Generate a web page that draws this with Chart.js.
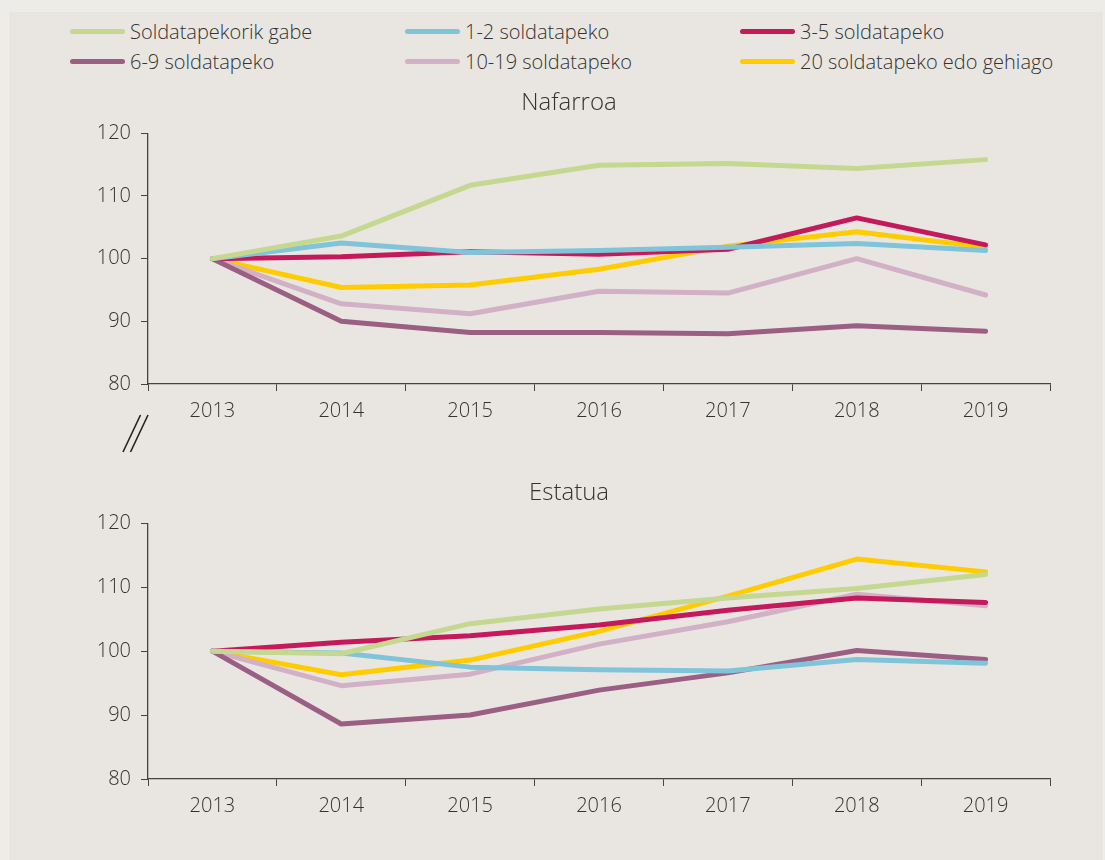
<!DOCTYPE html>
<html>
<head>
<meta charset="utf-8">
<script src="https://cdn.jsdelivr.net/npm/chart.js@4/dist/chart.umd.min.js"></script>
<style>
  html, body { margin:0; padding:0; }
  body { width:1105px; height:860px; background:#eeece8; position:relative; overflow:hidden; font-family:"Open Sans", sans-serif; }
  #panel { position:absolute; left:9px; top:12px; width:1094px; height:848px; background:#e9e6e1; }
  .box { position:absolute; left:0; width:1105px; }
  #legend { position:absolute; left:0; top:0; width:1105px; height:80px; }
  .li { position:absolute; display:flex; align-items:center; font-size:20px; font-weight:300; color:#333; white-space:nowrap; }
  .sw { width:55px; height:5px; border-radius:3px; margin-right:5px; }
</style>
</head>
<body>
<div id="panel"></div>
<div id="legend"></div>
<div class="box" style="top:85px;height:375px;"><canvas id="c1"></canvas></div>
<div class="box" style="top:475px;height:380px;"><canvas id="c2"></canvas></div>
<script>
const years = ["2013","2014","2015","2016","2017","2018","2019"];
const seriesNames = ["Soldatapekorik gabe","1-2 soldatapeko","3-5 soldatapeko","6-9 soldatapeko","10-19 soldatapeko","20 soldatapeko edo gehiago"];
const seriesColors = ["#c5d88f","#7fc4d8","#c41a5c","#9b5f84","#d2b1c6","#ffcc00"];
const yTicks = [80, 90, 100, 110, 120];

// Nafarroa
const nafGreen  = [100, 103.6, 111.7, 114.9, 115.2, 114.4, 115.8];
const nafBlue   = [100, 102.5, 101.0, 101.3, 101.8, 102.4, 101.3];
const nafRed    = [100, 100.3, 101.1, 100.7, 101.5, 106.5, 102.2];
const nafMauve  = [100, 90.0, 88.2, 88.2, 88.0, 89.3, 88.4];
const nafPink   = [100, 92.8, 91.2, 94.8, 94.5, 100.0, 94.2];
const nafYellow = [100, 95.4, 95.8, 98.3, 102.0, 104.3, 101.8];

// Estatua
const estGreen  = [100, 99.6, 104.3, 106.6, 108.3, 109.8, 112.0];
const estBlue   = [100, 99.7, 97.5, 97.1, 96.9, 98.7, 98.1];
const estRed    = [100, 101.4, 102.4, 104.1, 106.4, 108.3, 107.6];
const estMauve  = [100, 88.6, 90.0, 93.9, 96.6, 100.1, 98.7];
const estPink   = [100, 94.6, 96.4, 101.1, 104.6, 108.9, 107.1];
const estYellow = [100, 96.3, 98.6, 103.1, 108.6, 114.4, 112.4];

const FONT = "'Open Sans', sans-serif";
const TXT = "#333";
const AX = "#444";

function datasets(arrs){
  return arrs.map((d,i)=>({
    label: seriesNames[i], data: d, borderColor: seriesColors[i], backgroundColor: seriesColors[i],
    borderWidth: 5, pointRadius: 0, tension: 0, borderCapStyle: 'round', borderJoinStyle: 'round'
  }));
}

const breakMark = {
  id: 'breakMark',
  afterDraw(chart, args, opts){
    if(!opts.show) return;
    const c = chart.ctx, a = chart.chartArea;
    c.save();
    c.strokeStyle = '#222'; c.lineWidth = 1.6;
    const x0 = a.left;
    const yb = a.bottom;
    [[-25, -7.5],[-17.5, 0]].forEach(([xs, xe])=>{
      c.beginPath();
      c.moveTo(x0 + xs, yb + 68);
      c.lineTo(x0 + xe, yb + 31);
      c.stroke();
    });
    c.restore();
  }
};

function makeChart(id, title, arrs, padBottom, showBreak){
  return new Chart(document.getElementById(id), {
    type: 'line',
    data: { labels: years, datasets: datasets(arrs) },
    plugins: [breakMark],
    options: {
      responsive: true, maintainAspectRatio: false, animation: false,
      layout: { padding: { left: 88, right: 55, top: 0, bottom: padBottom } },
      plugins: {
        legend: { display: false },
        tooltip: { enabled: false },
        title: { display: true, text: title, color: TXT, font: { family: FONT, size: 24, weight: 300 }, padding: { top: 4, bottom: 15.5 } },
        breakMark: { show: showBreak }
      },
      scales: {
        x: {
          offset: true,
          grid: { offset: true, drawOnChartArea: false, drawTicks: true, tickLength: 7, color: AX },
          border: { color: AX, width: 1.3 },
          ticks: { color: TXT, font: { family: FONT, size: 20, weight: 300 }, padding: 8, maxRotation: 0 },
          afterFit(s){ s.height = 40; }
        },
        y: {
          min: 80, max: 120,
          afterBuildTicks(s){ s.ticks = yTicks.map(v=>({value:v})); },
          grid: { drawOnChartArea: false, drawTicks: true, tickLength: 7, color: AX },
          border: { color: AX, width: 1.3 },
          ticks: { color: TXT, font: { family: FONT, size: 20, weight: 300 }, padding: 10 },
          afterFit(s){ s.width = 60; }
        }
      }
    }
  });
}

const ch1 = makeChart('c1', 'Nafarroa', [nafGreen, nafBlue, nafRed, nafMauve, nafPink, nafYellow], 36, true);
const ch2 = makeChart('c2', 'Estatua', [estGreen, estBlue, estRed, estMauve, estPink, estYellow], 36, false);

// HTML legend generated from the chart's datasets
const leg = document.getElementById('legend');
const cols = [70, 405, 740], rows = [31, 61];
ch1.data.datasets.forEach((ds, i)=>{
  const el = document.createElement('div');
  el.className = 'li';
  el.style.left = cols[i % 3] + 'px';
  el.style.top = (rows[Math.floor(i / 3)] - 13) + 'px';
  el.style.height = '26px';
  el.innerHTML = '<span class="sw" style="background:' + ds.borderColor + '"></span><span>' + ds.label + '</span>';
  leg.appendChild(el);
});
</script>
</body>
</html>
